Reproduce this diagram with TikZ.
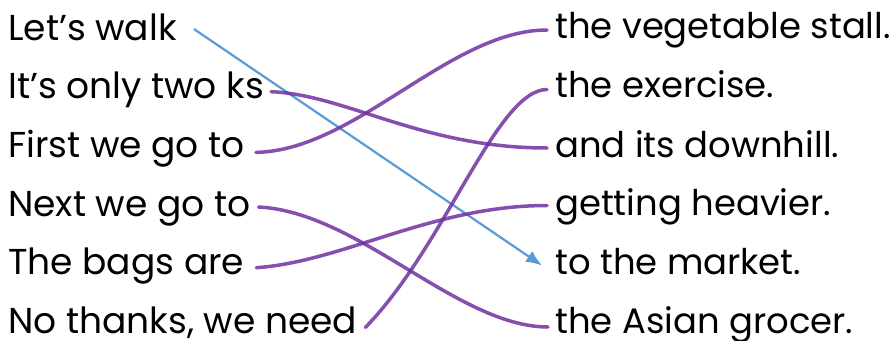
\documentclass[tikz,border=0pt]{standalone}
\usepackage{fontspec}
\setmainfont{Poppins}
\usetikzlibrary{arrows.meta}
\definecolor{linkpurple}{HTML}{7030A0}
\definecolor{linkblue}{HTML}{5B9BD5}
\begin{document}
\begin{tikzpicture}[x=1pt,y=-1pt,
  txt/.style={inner sep=0pt,text=black},
  lefttxt/.style={txt,anchor=base west,font=\fontsize{36}{40}\selectfont},
  righttxt/.style={txt,anchor=base west,font=\fontsize{35.4}{40}\selectfont},
  link/.style={draw=linkpurple,draw opacity=0.85,line width=3.5pt,line cap=round},
  arrowlink/.style={draw=linkblue,line width=2.2pt,-{Latex[length=16pt,width=13pt]}}]
\useasboundingbox (0,0) rectangle (891,340);
% left column
\node[lefttxt] (l1) at (8,40) {Let’s walk};
\node[lefttxt] (l2) at (8,98.7) {It’s only two ks};
\node[lefttxt] (l3) at (8,157.4) {First we go to};
\node[lefttxt] (l4) at (8,216) {Next we go to};
\node[lefttxt] (l5) at (8,274.7) {The bags are};
\node[lefttxt] (l6) at (8,333.4) {No thanks, we need};
% right column
\node[righttxt] (r1) at (555,38) {the vegetable stall.};
\node[righttxt] (r2) at (555,97.5) {the exercise.};
\node[righttxt] (r3) at (555,157) {and its downhill.};
\node[righttxt] (r4) at (555,215.5) {getting heavier.};
\node[righttxt] (r5) at (555,274.5) {to the market.};
\node[righttxt] (r6) at (555,333) {the Asian grocer.};
% connectors
\draw[arrowlink] ([xshift=17pt,yshift=11pt]l1.base east) -- ([xshift=-13pt,yshift=9pt]r5.base west);
\draw[link] ([xshift=7pt,yshift=7pt]l2.base east) .. controls +(75,3) and +(-125,0) .. ([xshift=-8pt,yshift=9pt]r3.base west);
\draw[link] ([xshift=11pt,yshift=5pt]l3.base east) .. controls +(100,-2) and +(-97,0) .. ([xshift=-8pt,yshift=8pt]r1.base west);
\draw[link] ([xshift=8pt,yshift=9pt]l4.base east) .. controls +(100,5) and +(-90,0) .. ([xshift=-7pt,yshift=6pt]r6.base west);
\draw[link] ([xshift=12pt,yshift=7pt]l5.base east) .. controls +(87,-6) and +(-115,0) .. ([xshift=-8pt,yshift=10pt]r4.base west);
\draw[link] ([xshift=8pt,yshift=6pt]l6.base east) .. controls +(80,-82) and +(-50,0) .. ([xshift=-8pt,yshift=8pt]r2.base west);
\end{tikzpicture}
\end{document}
